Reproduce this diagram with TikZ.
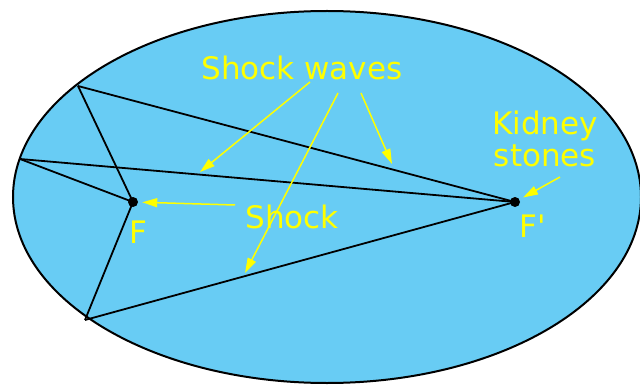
\documentclass[tikz,border=0pt]{standalone}
\usepackage{fontspec}
\setmainfont{DejaVu Sans}
\usetikzlibrary{arrows.meta}
\definecolor{pool}{RGB}{104,204,244}
\definecolor{yel}{RGB}{255,255,0}
\tikzset{
  ray/.style={draw=black, line width=1.8pt},
  callout/.style={draw=yel, line width=1.5pt, -{Triangle[length=15pt,width=9pt]}},
  lbl/.style={text=yel, inner sep=0pt, font=\fontsize{31}{34}\selectfont},
  focus/.style={circle, fill=black, inner sep=0pt, minimum size=10pt}
}
\begin{document}
\begin{tikzpicture}[x=1pt,y=-1pt]
\useasboundingbox (0,0) rectangle (640,385);
\fill[pool] (327,197) ellipse [x radius=314, y radius=186];
\draw[line width=2pt] (327,197) ellipse [x radius=314, y radius=186];
% reflection points
\coordinate (A) at (78,86);
\coordinate (B) at (20,159);
\coordinate (C) at (85,320);
\node[focus] (F) at (133,202) {};
\node[focus] (Fp) at (515,202) {};
\draw[ray] (A) -- (F.center);
\draw[ray] (A) -- (Fp.center);
\draw[ray] (B) -- (F.center);
\draw[ray] (B) -- (Fp.center);
\draw[ray] (C) -- (F.center);
\draw[ray] (C) -- (Fp.center);
% labels
\node[lbl, anchor=base] (sw) at (302,80) {Shock waves};
\node[lbl, anchor=base] (sh) at (292,228) {Shock};
\node[lbl, anchor=base west] (fl) at (129,243) {F};
\node[lbl, anchor=base west] (fpl) at (519,237) {F\textquotesingle};
\node[lbl, anchor=base] (ks1) at (545,135) {Kidney};
\node[lbl, anchor=base] (ks2) at (545,167) {stones};
% arrow tips / starts
\coordinate (s1) at (310,82);
\coordinate (t1) at (200,172);
\coordinate (s2) at (338,93);
\coordinate (t2) at (245,273);
\coordinate (s3) at (361,93);
\coordinate (t3) at (392,164);
\coordinate (s4) at (560,177);
\coordinate (s5) at (235,205);
\draw[callout] (s1) -- (t1);
\draw[callout] (s2) -- (t2);
\draw[callout] (s3) -- (t3);
\draw[callout, shorten >=4pt] (s4) -- (Fp);
\draw[callout, shorten >=4pt] (s5) -- (F);
\end{tikzpicture}
\end{document}
